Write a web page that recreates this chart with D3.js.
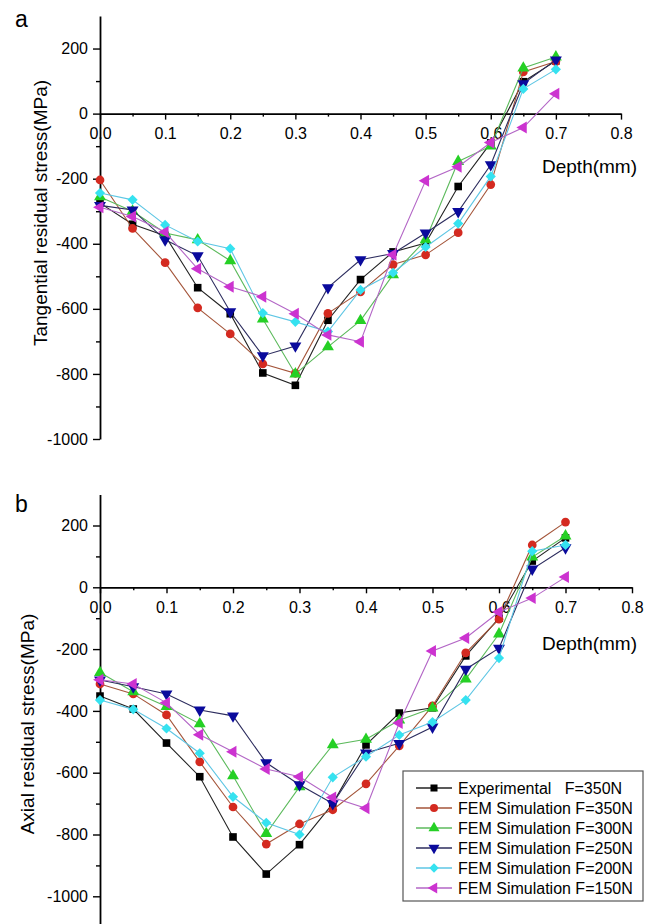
<!DOCTYPE html>
<html>
<head>
<meta charset="utf-8">
<script src="https://cdn.jsdelivr.net/npm/d3@7"></script>
<style>
body { margin: 0; background: #fff; }
text { font-family: "Liberation Sans", Arial, sans-serif; fill: #000; }
</style>
</head>
<body>
<div id="chart"></div>
<script>

// depth (mm) of each measurement point
var depth = [0, 0.05, 0.1, 0.15, 0.2, 0.25, 0.3, 0.35, 0.4, 0.45, 0.5, 0.55, 0.6, 0.65, 0.7];

var seriesNames = [
  "Experimental   F=350N",
  "FEM Simulation F=350N",
  "FEM Simulation F=300N",
  "FEM Simulation F=250N",
  "FEM Simulation F=200N",
  "FEM Simulation F=150N"
];

// panel a: tangential residual stress (MPa)
var tanExp  = [-275, -340, -375, -535, -615, -797, -835, -635, -510, -425, -398, -224, -90, 98, 162];
var tanF350 = [-204, -353, -458, -597, -677, -769, -798, -614, -548, -464, -434, -366, -218, 128, 160];
var tanF300 = [-256, -300, -367, -388, -452, -631, -800, -717, -636, -495, -388, -147, -100, 140, 174];
var tanF250 = [-282, -296, -388, -437, -609, -744, -714, -535, -449, -430, -367, -301, -157, 92, 165];
var tanF200 = [-244, -265, -342, -393, -415, -613, -640, -670, -542, -489, -410, -338, -193, 76, 136];
var tanF150 = [-288, -316, -364, -477, -532, -563, -615, -680, -701, -434, -206, -163, -89, -43, 61];

// panel b: axial residual stress (MPa)
var axExp  = [-352, -394, -504, -613, -808, -928, -833, -700, -510, -407, -390, -222, -100, 85, 160];
var axF350 = [-313, -345, -413, -565, -711, -831, -766, -720, -636, -513, -384, -212, -103, 137, 211];
var axF300 = [-276, -338, -386, -442, -610, -797, -646, -510, -492, -430, -391, -297, -151, 98, 166];
var axF250 = [-300, -322, -345, -397, -416, -568, -639, -700, -536, -505, -452, -265, -197, 59, 128];
var axF200 = [-365, -395, -457, -537, -678, -762, -800, -615, -548, -478, -436, -365, -229, 117, 137];
var axF150 = [-299, -313, -374, -477, -532, -588, -613, -680, -715, -439, -206, -164, -80, -35, 33];

var xMajor = [0, 0.1, 0.2, 0.3, 0.4, 0.5, 0.6, 0.7, 0.8];
var xMinor = [0.05, 0.15, 0.25, 0.35, 0.45, 0.55, 0.65, 0.75];
var yMajor = [-1000, -800, -600, -400, -200, 0, 200];
var yMinor = [-900, -700, -500, -300, -100, 100];

var lineColors   = ["#222222", "#a4553a", "#5cba5c", "#2c2c5e", "#5ec6e4", "#b366c6"];
var markerColors = ["#000000", "#d42a20", "#25d025", "#0a0a9c", "#35e2f0", "#cc33d0"];

var symbols = [
  { type: d3.symbolSquare,   size: 58, rotate: 0 },
  { type: d3.symbolCircle,   size: 60, rotate: 0 },
  { type: d3.symbolTriangle, size: 62, rotate: 0 },
  { type: d3.symbolTriangle, size: 62, rotate: 180 },
  { type: d3.symbolSquare,   size: 52, rotate: 45 },
  { type: d3.symbolTriangle, size: 62, rotate: -90 }
];

var panels = [
  {
    letter: "a", letterY: 27,
    ylabel: "Tangential residual stress(MPa)", ylabelX: 47, ylabelY: 213,
    depthY: 173,
    xRange: [100, 621], yDomain: [-1000, 300], yRange: [439, 16],
    series: [tanExp, tanF350, tanF300, tanF250, tanF200, tanF150]
  },
  {
    letter: "b", letterY: 512,
    ylabel: "Axial residual stress(MPa)", ylabelX: 34, ylabelY: 724,
    depthY: 650,
    xRange: [100, 632], yDomain: [-1100, 300], yRange: [927.2, 494.6],
    series: [axExp, axF350, axF300, axF250, axF200, axF150],
    legend: true
  }
];

// plain hyphen for negatives, like the original figure
var plainNumber = function(d) { return String(d); };

var svg = d3.select("#chart")
    .append("svg")
    .attr("width", 654)
    .attr("height", 924);

panels.forEach(function(p) {
  var x_scale = d3.scaleLinear().domain([0, 0.8]).range(p.xRange);
  var y_scale = d3.scaleLinear().domain(p.yDomain).range(p.yRange);
  var g = svg.append("g");

  // x axis sits on the zero line
  var x0 = y_scale(0);
  g.append("g")
    .attr("transform", "translate(0," + x0 + ")")
    .call(d3.axisBottom(x_scale).tickValues(xMinor).tickSize(3).tickFormat(""))
    .call(function(s) { s.select(".domain").remove(); });
  g.append("g")
    .attr("class", "x axis")
    .attr("transform", "translate(0," + x0 + ")")
    .call(d3.axisBottom(x_scale).tickValues(xMajor).tickSize(6).tickPadding(8)
      .tickSizeOuter(0).tickFormat(d3.format(".1f")));

  g.append("g")
    .attr("transform", "translate(" + p.xRange[0] + ",0)")
    .call(d3.axisLeft(y_scale).tickValues(yMinor).tickSize(4).tickFormat(""))
    .call(function(s) { s.select(".domain").remove(); });
  g.append("g")
    .attr("class", "y axis")
    .attr("transform", "translate(" + p.xRange[0] + ",0)")
    .call(d3.axisLeft(y_scale).tickValues(yMajor).tickSize(7).tickPadding(5)
      .tickSizeOuter(0).tickFormat(plainNumber));

  g.selectAll(".axis text")
    .attr("font-size", 16)
    .attr("font-family", "'Liberation Sans', Arial, sans-serif")
    .attr("fill", "#000");
  g.selectAll(".domain").attr("stroke-width", 1.8);
  g.selectAll(".tick line").attr("stroke-width", 1.4);

  // labels
  g.append("text")
    .attr("x", 15).attr("y", p.letterY)
    .attr("font-size", 23)
    .text(p.letter);
  g.append("text")
    .attr("transform", "translate(" + p.ylabelX + "," + p.ylabelY + ") rotate(-90)")
    .attr("text-anchor", "middle")
    .attr("font-size", 19)
    .text(p.ylabel);
  g.append("text")
    .attr("x", 542).attr("y", p.depthY)
    .attr("font-size", 19)
    .text("Depth(mm)");

  // series
  var line = d3.line()
    .x(function(d, i) { return x_scale(depth[i]); })
    .y(function(d) { return y_scale(d); });

  p.series.forEach(function(values, k) {
    g.append("path")
      .attr("d", line(values))
      .attr("fill", "none")
      .attr("stroke", lineColors[k])
      .attr("stroke-width", 1.1);
    var sym = d3.symbol().type(symbols[k].type).size(symbols[k].size);
    g.selectAll(".m" + k)
      .data(values)
      .enter()
      .append("path")
      .attr("class", "m" + k)
      .attr("d", sym)
      .attr("transform", function(d, i) {
        return "translate(" + x_scale(depth[i]) + "," + y_scale(d) + ") rotate(" + symbols[k].rotate + ")";
      })
      .attr("fill", markerColors[k]);
  });

  if (p.legend) {
    var lg = g.append("g").attr("transform", "translate(403,771)");
    lg.append("rect")
      .attr("width", 240).attr("height", 130)
      .attr("fill", "#fff")
      .attr("stroke", "#555")
      .attr("stroke-width", 1.2);
    seriesNames.forEach(function(name, k) {
      var yy = 17 + k * 20;
      lg.append("line")
        .attr("x1", 13).attr("x2", 49).attr("y1", yy).attr("y2", yy)
        .attr("stroke", lineColors[k]).attr("stroke-width", 1.3);
      lg.append("path")
        .attr("d", d3.symbol().type(symbols[k].type).size(symbols[k].size * 0.85)())
        .attr("transform", "translate(31," + yy + ") rotate(" + symbols[k].rotate + ")")
        .attr("fill", markerColors[k]);
      lg.append("text")
        .attr("x", 55).attr("y", yy + 6)
        .attr("font-size", 16)
        .attr("xml:space", "preserve")
        .style("white-space", "pre")
        .text(name);
    });
  }
});

</script>
</body>
</html>
